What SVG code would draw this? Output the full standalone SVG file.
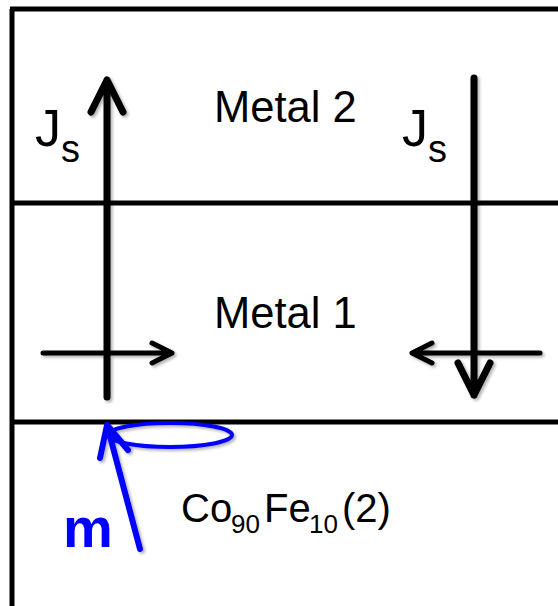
<svg xmlns="http://www.w3.org/2000/svg" width="558" height="606" viewBox="0 0 558 606">
<defs>
<style>
.frame{stroke:#000;stroke-width:5;fill:none}
.arr{stroke:#000;fill:none;stroke-linecap:round;stroke-linejoin:round}
.v{stroke-width:7}
.h{stroke-width:5}
.blue{stroke:#0000FF;fill:none;stroke-linecap:round;stroke-linejoin:round}
.lbl{font-family:"Liberation Sans",Arial,sans-serif;fill:#000}
</style>
<filter id="sh" x="-20%" y="-20%" width="140%" height="140%">
<feDropShadow dx="2" dy="2" stdDeviation="1.5" flood-color="#000" flood-opacity="0.3"/>
</filter>
</defs>
<rect width="558" height="606" fill="#fff"/>
<g id="frame">
<line class="frame" x1="12" y1="9" x2="12" y2="606"/>
<line class="frame" x1="10" y1="9" x2="558" y2="9"/>
<line class="frame" x1="12" y1="203" x2="558" y2="203"/>
<line class="frame" x1="12" y1="422" x2="558" y2="422"/>
</g>
<g id="metal2">
<text class="lbl" x="214" y="122" font-size="43.5">Metal 2</text>
</g>
<g id="metal1">
<text class="lbl" x="214" y="328" font-size="43.5">Metal 1</text>
</g>
<g id="cofe">
<text class="lbl" y="522" font-size="40"><tspan x="181">Co</tspan><tspan x="231" y="533" font-size="26">90</tspan><tspan x="264" y="522">Fe</tspan><tspan x="309" y="533" font-size="26">10</tspan><tspan x="342" y="522">(2)</tspan></text>
</g>
<g id="js-left">
<text class="lbl" x="35" y="146" font-size="52">J<tspan font-size="38" dy="16">s</tspan></text>
</g>
<g id="js-right">
<text class="lbl" x="402" y="146" font-size="52">J<tspan font-size="38" dy="16">s</tspan></text>
</g>
<g id="m-label">
<text x="63" y="547" font-family="'Liberation Sans',Arial,sans-serif" font-weight="bold" font-size="56" fill="#0000FF">m</text>
</g>
<g id="connectors">
<g filter="url(#sh)">
<path class="arr v" d="M107 397V80M91 112L107 80L123 112"/>
<path class="arr v" d="M474 78V395M458 363L474 395L490 363"/>
<path class="arr h" d="M43 353H172M152 343L172 353L152 363"/>
<path class="arr h" d="M540 353H412M432 343L412 353L432 363"/>
<ellipse class="blue" cx="170" cy="435" rx="62" ry="12" stroke-width="4"/>
<path class="blue" stroke-width="6" d="M140 549L107 425M100 458L107 425L128 450"/>
</g>
</g>
</svg>
